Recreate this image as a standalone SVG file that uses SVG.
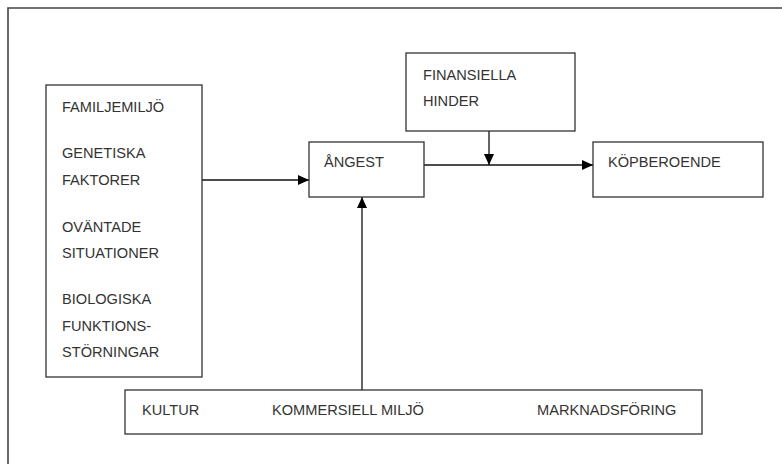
<svg xmlns="http://www.w3.org/2000/svg" width="782" height="464" viewBox="0 0 782 464">
<style>
.box{fill:#fff;stroke:#333;stroke-width:1.3}
.t{font-family:"Liberation Sans",Arial,sans-serif;font-size:14.6px;fill:#333}
.c{stroke:#111;stroke-width:1.3;fill:none}
</style>
<defs>
<marker id="ah" markerWidth="11" markerHeight="11" refX="11" refY="5.5" orient="auto" markerUnits="userSpaceOnUse">
<path d="M0,0.5 L11,5.5 L0,10.5 Z" fill="#000"/>
</marker>
</defs>
<rect x="0" y="0" width="782" height="464" fill="#fff"/>
<path d="M8,470 V8 H790" fill="none" stroke="#444" stroke-width="1.6"/>
<g id="connectors">
<line class="c" x1="202" y1="180" x2="309" y2="180" marker-end="url(#ah)"/>
<line class="c" x1="362" y1="390" x2="362" y2="197" marker-end="url(#ah)"/>
<line class="c" x1="424" y1="165" x2="593" y2="165" marker-end="url(#ah)"/>
<line class="c" x1="489" y1="131" x2="489" y2="165" marker-end="url(#ah)"/>
</g>
<g id="faktorer">
<rect class="box" x="46" y="85" width="156" height="292"/>
<text class="t" x="62" y="112">FAMILJEMILJÖ</text>
<text class="t" x="62" y="158">GENETISKA</text>
<text class="t" x="62" y="185">FAKTORER</text>
<text class="t" x="62" y="232">OVÄNTADE</text>
<text class="t" x="62" y="258">SITUATIONER</text>
<text class="t" x="62" y="304">BIOLOGISKA</text>
<text class="t" x="62" y="331">FUNKTIONS-</text>
<text class="t" x="62" y="357">STÖRNINGAR</text>
</g>
<g id="angest">
<rect class="box" x="309" y="142" width="115" height="55"/>
<text class="t" x="324" y="167">ÅNGEST</text>
</g>
<g id="finansiella">
<rect class="box" x="406" y="53" width="169" height="78"/>
<text class="t" x="423" y="80">FINANSIELLA</text>
<text class="t" x="423" y="106">HINDER</text>
</g>
<g id="kopberoende">
<rect class="box" x="593" y="142" width="170" height="55"/>
<text class="t" x="608" y="167">KÖPBEROENDE</text>
</g>
<g id="miljo">
<rect class="box" x="125" y="390" width="577" height="44"/>
<text class="t" x="142" y="415">KULTUR</text>
<text class="t" x="272" y="415">KOMMERSIELL MILJÖ</text>
<text class="t" x="537" y="415">MARKNADSFÖRING</text>
</g>
</svg>
